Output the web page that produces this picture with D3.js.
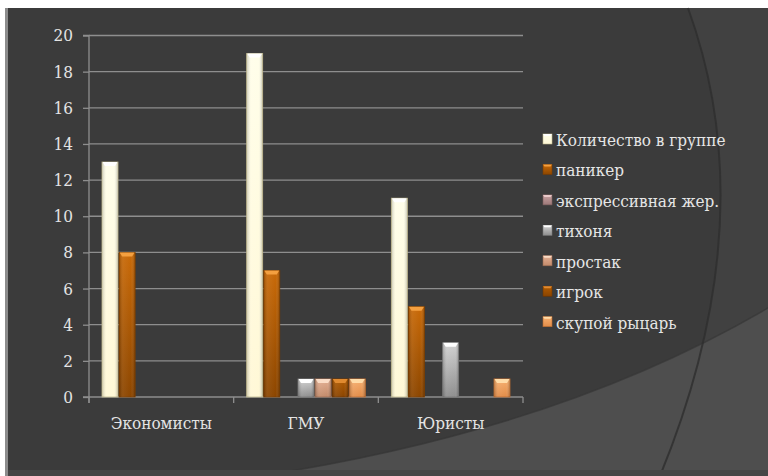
<!DOCTYPE html>
<html><head><meta charset="utf-8">
<script src="https://cdn.jsdelivr.net/npm/d3@7"></script>
<style>html,body{margin:0;padding:0;background:#fff;}svg{display:block;}</style>
</head><body>
<script>
const categories = ["Экономисты", "ГМУ", "Юристы"];
const seriesNames = ["Количество в группе", "паникер", "экспрессивная жер.", "тихоня", "простак", "игрок", "скупой рыцарь"];
const kolichestvo = [13, 19, 11];
const paniker = [8, 7, 5];
const ekspressivnaya = [0, 0, 0];
const tihonya = [0, 1, 3];
const prostak = [0, 1, 0];
const igrok = [0, 1, 0];
const skupoy = [0, 1, 1];
const yTicks = [0, 2, 4, 6, 8, 10, 12, 14, 16, 18, 20];

const seriesValues = [kolichestvo, paniker, ekspressivnaya, tihonya, prostak, igrok, skupoy];
const palette = [
  {top:"#FFFEEA", bot:"#FFF8D6", cap:"#FFFFFF", stroke:"#BFB78C"},
  {top:"#C96A08", bot:"#8C4600", cap:"#F4A040", stroke:"#7A3D00"},
  {top:"#C8A2A2", bot:"#9C7878", cap:"#EACACA", stroke:"#7E5E5E"},
  {top:"#D2D2D2", bot:"#8E8E8E", cap:"#FFFFFF", stroke:"#777777"},
  {top:"#E4B094", bot:"#C28A6A", cap:"#FADCC6", stroke:"#9A6A50"},
  {top:"#B25C02", bot:"#8A4400", cap:"#E08A30", stroke:"#6E3600"},
  {top:"#F7B070", bot:"#E28C48", cap:"#FFDCA8", stroke:"#B86A30"}
];
const FONT = "'DejaVu Serif Condensed', 'DejaVu Serif', serif";
const FS = 17;

const W = 768, H = 476;
const svg = d3.select("body").append("svg").attr("width", W).attr("height", H);
const defs = svg.append("defs");

svg.append("rect").attr("width", W).attr("height", H).attr("fill", "#ffffff");
svg.append("rect").attr("x", 5).attr("y", 8).attr("width", W - 5).attr("height", H - 8).attr("fill", "#3B3B3B");
svg.append("path").attr("d", "M688 8 Q765 220 660 476 L768 476 L768 8 Z").attr("fill", "#414141");
svg.append("path").attr("d", "M260 476 Q560 430 768 308 L768 476 Z").attr("fill", "#4E4E4E");
svg.append("path").attr("d", "M260 476 Q560 430 768 308").attr("fill", "none").attr("stroke", "#363636").attr("stroke-width", 1.5).attr("opacity", 0.7);
svg.append("path").attr("d", "M688 8 Q765 220 660 476").attr("fill", "none").attr("stroke", "#2E2E2E").attr("stroke-width", 2).attr("opacity", 0.8);
svg.append("rect").attr("x", 5).attr("y", 470).attr("width", W - 5).attr("height", 6).attr("fill", "#454545");
svg.append("rect").attr("x", 5).attr("y", 8).attr("width", 3).attr("height", H - 8).attr("fill", "#8C8C8C");

palette.forEach((p, i) => {
  const g = defs.append("linearGradient").attr("id", "g" + i).attr("x1", 0).attr("y1", 0).attr("x2", 0).attr("y2", 1);
  g.append("stop").attr("offset", "0%").attr("stop-color", p.top);
  g.append("stop").attr("offset", "100%").attr("stop-color", p.bot);
  const h = defs.append("linearGradient").attr("id", "h" + i).attr("x1", 0).attr("y1", 0).attr("x2", 1).attr("y2", 0);
  h.append("stop").attr("offset", "0%").attr("stop-color", "#000").attr("stop-opacity", 0.18);
  h.append("stop").attr("offset", "25%").attr("stop-color", "#fff").attr("stop-opacity", 0.06);
  h.append("stop").attr("offset", "75%").attr("stop-color", "#fff").attr("stop-opacity", 0.0);
  h.append("stop").attr("offset", "100%").attr("stop-color", "#000").attr("stop-opacity", 0.2);
});

const x0 = d3.scaleBand().domain(categories).range([89, 523]).padding(0);
const x1 = d3.scaleBand().domain(seriesNames).range([0, x0.bandwidth()]).paddingInner(0.065).paddingOuter(0.76);
const y = d3.scaleLinear().domain([0, 20]).range([397, 35.5]);
const gridColor = "#8E8E8E";

svg.append("g").selectAll("line").data(yTicks.filter(d => d > 0)).join("line")
  .attr("x1", 89).attr("x2", 523).attr("y1", d => y(d)).attr("y2", d => y(d))
  .attr("stroke", gridColor).attr("stroke-width", 1.3);

const yAxis = d3.axisLeft(y).tickValues(yTicks).tickSize(6).tickPadding(10).tickFormat(d3.format("d"));
const ya = svg.append("g").attr("transform", "translate(89,0)").call(yAxis);
ya.attr("font-family", FONT).attr("font-size", FS);
ya.select(".domain").attr("stroke", gridColor).attr("stroke-width", 1.3).attr("d", `M-6,${y(20)}H0V${y(0)+6}`);
ya.selectAll(".tick line").attr("stroke", gridColor).attr("stroke-width", 1.3);
ya.selectAll(".tick text").attr("fill", "#E4E4E4").attr("x", -16);

const xa = svg.append("g").attr("transform", `translate(0,${y(0)})`).attr("font-family", FONT).attr("font-size", FS);
xa.append("line").attr("x1", 83).attr("x2", 523).attr("y1", 0).attr("y2", 0).attr("stroke", gridColor).attr("stroke-width", 1.3);
xa.selectAll("line.tk").data(categories.map(c => x0(c)).concat([x0.range()[1]])).join("line")
  .attr("class", "tk").attr("x1", d => d).attr("x2", d => d).attr("y1", 0).attr("y2", 6).attr("stroke", gridColor).attr("stroke-width", 1.3);
xa.selectAll("text").data(categories).join("text")
  .attr("x", d => x0(d) + x0.bandwidth() / 2).attr("y", 32)
  .attr("text-anchor", "middle").attr("fill", "#E4E4E4").text(d => d);

const barData = [];
seriesValues.forEach((vals, si) => vals.forEach((v, ci) => { if (v > 0) barData.push({si, ci, v}); }));
const bars = svg.append("g").selectAll("g").data(barData).join("g")
  .attr("transform", d => `translate(${x0(categories[d.ci]) + x1(seriesNames[d.si])},0)`);
const bw = x1.bandwidth();
bars.append("rect").attr("x", 0).attr("width", bw).attr("y", d => y(d.v)).attr("height", d => y(0) - y(d.v))
  .attr("fill", d => `url(#g${d.si})`).attr("stroke", d => palette[d.si].stroke).attr("stroke-width", 0.8);
bars.append("rect").attr("x", 0.5).attr("width", bw - 1).attr("y", d => y(d.v)).attr("height", d => y(0) - y(d.v))
  .attr("fill", d => `url(#h${d.si})`);
bars.append("path").attr("d", d => {
  const t = y(d.v);
  return `M0.5,${t}H${bw - 0.5}L${bw - 3},${t + 4}H3Z`;
}).attr("fill", d => palette[d.si].cap);

const legG = svg.append("g").attr("font-family", FONT).attr("font-size", FS);
const leg = legG.selectAll("g").data(seriesNames).join("g")
  .attr("transform", (d, i) => `translate(543,${139 + i * 30.45})`);
leg.append("rect").attr("x", 0).attr("y", -5).attr("width", 9).attr("height", 10)
  .attr("fill", (d, i) => `url(#g${i})`).attr("stroke", (d, i) => palette[i].stroke).attr("stroke-width", 0.6);
leg.append("path").attr("d", "M0,-5H9L7.5,-3H1.5Z").attr("fill", (d, i) => palette[i].cap);
leg.append("text").attr("x", 13).attr("y", 7).attr("fill", "#E6E6E6").text(d => d);
</script>
</body></html>
